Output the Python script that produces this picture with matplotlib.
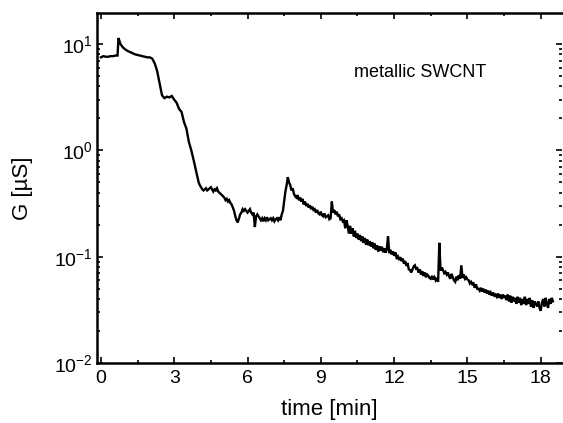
import matplotlib
matplotlib.use("Agg")
import matplotlib.pyplot as plt
from matplotlib.ticker import FixedLocator, LogLocator, NullFormatter

plt.rcParams['font.family'] = ['Liberation Sans', 'DejaVu Sans']

# early part of the trace (irregular sampling)
time_early = [
    0.0, 0.1, 0.2, 0.3, 0.4, 0.5, 0.6, 0.68, 0.72, 0.8, 0.9, 1.0, 1.1, 1.2, 1.3, 1.4,
    1.5, 1.6, 1.7, 1.8, 1.9, 2.0, 2.1, 2.2, 2.3, 2.4, 2.5, 2.6, 2.7, 2.8, 2.9, 3.0,
    3.1, 3.2, 3.3, 3.4, 3.5, 3.6, 3.7, 3.8, 3.9,
]
g_early = [
    7.5, 7.7, 7.6, 7.6, 7.7, 7.7, 7.8, 7.8, 11.4, 10.0, 9.3, 8.9, 8.6, 8.4, 8.2, 8.0,
    7.9, 7.8, 7.7, 7.6, 7.5, 7.5, 7.3, 6.6, 5.6, 4.3, 3.3, 3.1, 3.2, 3.15, 3.25, 3.0,
    2.8, 2.45, 2.3, 1.85, 1.6, 1.2, 1.0, 0.8, 0.63,
]

# later part: samples every 0.05 min from 4.0 to 18.5 min
g_late = [
    0.50, 0.47, 0.45, 0.43, 0.42, 0.43, 0.44, 0.42, 0.43, 0.44,
    0.45, 0.43, 0.41, 0.43, 0.42, 0.44, 0.41, 0.40, 0.39, 0.38,
    0.37, 0.36, 0.34, 0.35, 0.33, 0.34, 0.32, 0.31, 0.29, 0.27,
    0.24, 0.22, 0.21, 0.23, 0.25, 0.26, 0.28, 0.27, 0.28, 0.27,
    0.26, 0.27, 0.28, 0.26, 0.25, 0.26, 0.19, 0.24, 0.25, 0.24,
    0.23, 0.22, 0.23, 0.215, 0.23, 0.22, 0.235, 0.22, 0.225, 0.23,
    0.22, 0.23, 0.215, 0.225, 0.23, 0.22, 0.235, 0.22, 0.25, 0.27,
    0.33, 0.41, 0.47, 0.56, 0.50, 0.47, 0.42, 0.44, 0.39, 0.37,
    0.36, 0.38, 0.34, 0.36, 0.33, 0.35, 0.31, 0.33, 0.30, 0.315,
    0.29, 0.305, 0.28, 0.295, 0.275, 0.28, 0.26, 0.275, 0.255, 0.25,
    0.265, 0.245, 0.24, 0.255, 0.235, 0.24, 0.245, 0.225, 0.23, 0.33,
    0.26, 0.275, 0.25, 0.265, 0.24, 0.25, 0.225, 0.23, 0.215, 0.22,
    0.185, 0.22, 0.195, 0.165, 0.195, 0.165, 0.185, 0.155, 0.175, 0.15,
    0.165, 0.145, 0.16, 0.14, 0.155, 0.135, 0.15, 0.13, 0.145, 0.128,
    0.14, 0.125, 0.137, 0.12, 0.133, 0.116, 0.128, 0.112, 0.125, 0.114,
    0.124, 0.11, 0.12, 0.109, 0.118, 0.155, 0.108, 0.116, 0.105, 0.112,
    0.102, 0.11, 0.098, 0.101, 0.093, 0.099, 0.091, 0.096, 0.086, 0.091,
    0.082, 0.087, 0.076, 0.075, 0.071, 0.076, 0.081, 0.083, 0.077, 0.078,
    0.071, 0.076, 0.068, 0.073, 0.066, 0.071, 0.064, 0.068, 0.066, 0.063,
    0.062, 0.066, 0.061, 0.064, 0.06, 0.063, 0.058, 0.135, 0.074, 0.079,
    0.075, 0.07, 0.072, 0.068, 0.071, 0.065, 0.062, 0.069, 0.064, 0.06,
    0.058, 0.065, 0.06, 0.067, 0.062, 0.083, 0.063, 0.068, 0.062, 0.064,
    0.061, 0.06, 0.056, 0.058, 0.055, 0.056, 0.051, 0.055, 0.05, 0.05,
    0.048, 0.051, 0.047, 0.05, 0.046, 0.049, 0.045, 0.048, 0.044, 0.046,
    0.043, 0.046, 0.043, 0.044, 0.042, 0.045, 0.041, 0.044, 0.04, 0.044,
    0.041, 0.043, 0.039, 0.044, 0.038, 0.043, 0.037, 0.042, 0.038, 0.041,
    0.036, 0.042, 0.037, 0.041, 0.035, 0.04, 0.036, 0.042, 0.035, 0.04,
    0.036, 0.041, 0.034, 0.039, 0.033, 0.038, 0.036, 0.034, 0.038, 0.033,
    0.031, 0.037, 0.04, 0.034, 0.041, 0.036, 0.033, 0.04, 0.036, 0.041,
    0.038,
]
late_start, late_step = 4.0, 0.05
time_late = [round(late_start + late_step * i, 3) for i in range(len(g_late))]

time_min = time_early + time_late
conductance_uS = g_early + g_late

x_ticks = [0, 3, 6, 9, 12, 15, 18]
x_minor = [1.5, 4.5, 7.5, 10.5, 13.5, 16.5]
y_ticks = [1e-2, 1e-1, 1e0, 1e1]
y_tick_labels = [r'$\mathregular{10^{-2}}$', r'$\mathregular{10^{-1}}$',
                 r'$\mathregular{10^{0}}$', r'$\mathregular{10^{1}}$']

fig = plt.figure(figsize=(5.63, 4.23), dpi=100)
ax = fig.add_axes([97 / 563, 1 - 363 / 423, (562 - 97) / 563, (363 - 13) / 423])

ax.plot(time_min, conductance_uS, color='black', lw=1.7, solid_joinstyle='miter')
ax.set_yscale('log')
ax.set_xlim(-0.16, 18.87)
ax.set_ylim(0.01, 19.6)

ax.xaxis.set_major_locator(FixedLocator(x_ticks))
ax.set_xticklabels([str(v) for v in x_ticks])
ax.xaxis.set_minor_locator(FixedLocator(x_minor))
ax.yaxis.set_major_locator(FixedLocator(y_ticks))
ax.set_yticklabels(y_tick_labels)
ax.yaxis.set_minor_locator(LogLocator(base=10, subs=range(2, 10)))
ax.yaxis.set_minor_formatter(NullFormatter())

ax.tick_params(which='both', direction='in', top=True, right=True, labelsize=14,
               width=1.2)
ax.tick_params(axis='y', pad=3)
ax.tick_params(axis='x', pad=5)
ax.tick_params(which='major', length=4)
ax.tick_params(which='minor', length=2)

for side in ['left', 'bottom', 'top']:
    ax.spines[side].set_linewidth(1.8)
ax.spines['right'].set_visible(False)

ax.set_xlabel('time [min]', fontsize=16, labelpad=9)
ax.set_ylabel('G [µS]', fontsize=16, labelpad=15)

ax.text(0.694, 0.83, 'metallic SWCNT', transform=ax.transAxes, fontsize=13,
        ha='center', va='center')

fig.savefig('out.png', dpi=100)
